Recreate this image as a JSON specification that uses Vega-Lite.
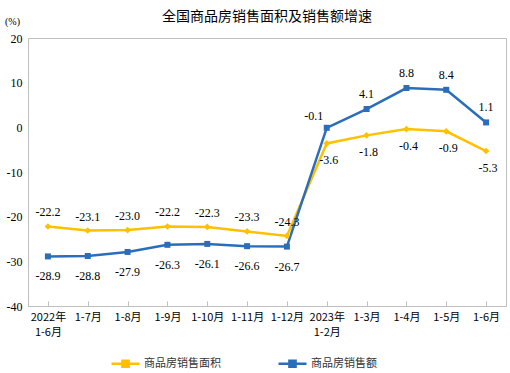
{
  "$schema": "https://vega.github.io/schema/vega-lite/v6.json",
  "autosize": "none",
  "width": 478,
  "height": 268,
  "padding": {"left": 28, "top": 38, "right": 4, "bottom": 67},
  "background": "white",
  "title": {
    "text": "全国商品房销售面积及销售额增速",
    "font": "Noto Sans CJK SC",
    "fontSize": 14,
    "fontWeight": "normal",
    "color": "#000000",
    "anchor": "middle",
    "offset": -8
  },
  "config": {
    "locale": {"number": {"decimal": ".", "thousands": ",", "grouping": [3], "currency": ["$", ""], "minus": "-"}},
    "view": {"stroke": "#BFBFBF", "strokeWidth": 1},
    "axis": {"domainColor": "#BFBFBF", "tickColor": "#BFBFBF", "grid": false, "labelColor": "#000000", "titleColor": "#000000"}
  },
  "data": {
    "values": [
      {"cat": "2022年\n1-6月", "period": 2022, "series": "商品房销售面积", "value": -22.2},
      {"cat": "1-7月", "period": 2022, "series": "商品房销售面积", "value": -23.1},
      {"cat": "1-8月", "period": 2022, "series": "商品房销售面积", "value": -23.0},
      {"cat": "1-9月", "period": 2022, "series": "商品房销售面积", "value": -22.2},
      {"cat": "1-10月", "period": 2022, "series": "商品房销售面积", "value": -22.3},
      {"cat": "1-11月", "period": 2022, "series": "商品房销售面积", "value": -23.3},
      {"cat": "1-12月", "period": 2022, "series": "商品房销售面积", "value": -24.3},
      {"cat": "2023年\n1-2月", "period": 2023, "series": "商品房销售面积", "value": -3.6},
      {"cat": "1-3月", "period": 2023, "series": "商品房销售面积", "value": -1.8},
      {"cat": "1-4月", "period": 2023, "series": "商品房销售面积", "value": -0.4},
      {"cat": "1-5月", "period": 2023, "series": "商品房销售面积", "value": -0.9},
      {"cat": "1-6月", "period": 2023, "series": "商品房销售面积", "value": -5.3},
      {"cat": "2022年\n1-6月", "period": 2022, "series": "商品房销售额", "value": -28.9},
      {"cat": "1-7月", "period": 2022, "series": "商品房销售额", "value": -28.8},
      {"cat": "1-8月", "period": 2022, "series": "商品房销售额", "value": -27.9},
      {"cat": "1-9月", "period": 2022, "series": "商品房销售额", "value": -26.3},
      {"cat": "1-10月", "period": 2022, "series": "商品房销售额", "value": -26.1},
      {"cat": "1-11月", "period": 2022, "series": "商品房销售额", "value": -26.6},
      {"cat": "1-12月", "period": 2022, "series": "商品房销售额", "value": -26.7},
      {"cat": "2023年\n1-2月", "period": 2023, "series": "商品房销售额", "value": -0.1},
      {"cat": "1-3月", "period": 2023, "series": "商品房销售额", "value": 4.1},
      {"cat": "1-4月", "period": 2023, "series": "商品房销售额", "value": 8.8},
      {"cat": "1-5月", "period": 2023, "series": "商品房销售额", "value": 8.4},
      {"cat": "1-6月", "period": 2023, "series": "商品房销售额", "value": 1.1}
    ]
  },
  "encoding": {
    "x": {
      "field": "cat", "type": "nominal", "sort": null,
      "scale": {"paddingInner": 0, "paddingOuter": 0},
      "axis": {
        "title": null, "labelAngle": 0, "bandPosition": 0, "tickSize": -5,
        "labelExpr": "split(datum.label, '\\n')",
        "labelFont": "Noto Sans CJK SC", "labelFontSize": 11, "labelPadding": 10,
        "labelLineHeight": 15, "labelBaseline": "top"
      }
    },
    "y": {
      "field": "value", "type": "quantitative",
      "scale": {"domain": [-40, 20], "nice": false},
      "axis": {
        "values": [-40, -30, -20, -10, 0, 10, 20],
        "title": "(%)", "titleAngle": 0, "titleX": -16, "titleY": -12,
        "titleFont": "Liberation Serif", "titleFontSize": 10, "titleFontWeight": "normal",
        "ticks": false, "labelFont": "Liberation Serif", "labelFontSize": 12, "labelPadding": 6
      }
    },
    "color": {
      "field": "series", "type": "nominal",
      "scale": {"domain": ["商品房销售面积", "商品房销售额"], "range": ["#FFC000", "#2A6EBB"]},
      "legend": {
        "title": null, "orient": "none", "direction": "horizontal",
        "legendX": 82, "legendY": 310,
        "labelFont": "Noto Sans CJK SC", "labelFontSize": 11, "labelColor": "#333333",
        "symbolType": "M-1,0H1M-0.22,-0.22H0.22V0.22H-0.22Z",
        "symbolSize": 784, "symbolStrokeWidth": 2.5, "columnPadding": 52, "labelOffset": 3,
        "encode": {"symbols": {"update": {"shape": {"value": "M-1,0H1M-0.22,-0.22H0.22V0.22H-0.22Z"}, "size": {"value": 784}, "strokeWidth": {"value": 2.5}}}}
      }
    }
  },
  "layer": [
    {"mark": {"type": "line", "strokeWidth": 2.5}},
    {
      "transform": [{"filter": "datum.series == '商品房销售面积'"}],
      "mark": {"type": "point", "filled": true, "size": 45, "opacity": 1, "shape": "diamond"}
    },
    {
      "transform": [{"filter": "datum.series == '商品房销售额'"}],
      "mark": {"type": "point", "filled": true, "size": 36, "opacity": 1, "shape": "square"}
    },
    {
      "transform": [{"filter": "datum.series == '商品房销售面积' && datum.period == 2022"}],
      "mark": {"type": "text", "dy": -14, "font": "Liberation Serif", "fontSize": 12},
      "encoding": {"text": {"field": "value", "format": ".1f"}, "color": {"value": "#000000"}}
    },
    {
      "transform": [{"filter": "datum.series == '商品房销售面积' && datum.period == 2023"}],
      "mark": {"type": "text", "dy": 17, "dx": 2, "font": "Liberation Serif", "fontSize": 12},
      "encoding": {"text": {"field": "value", "format": ".1f"}, "color": {"value": "#000000"}}
    },
    {
      "transform": [{"filter": "datum.series == '商品房销售额' && datum.period == 2022"}],
      "mark": {"type": "text", "dy": 20, "font": "Liberation Serif", "fontSize": 12},
      "encoding": {"text": {"field": "value", "format": ".1f"}, "color": {"value": "#000000"}}
    },
    {
      "transform": [{"filter": "datum.series == '商品房销售额' && datum.period == 2023 && datum.cat != '2023年\\n1-2月'"}],
      "mark": {"type": "text", "dy": -15, "font": "Liberation Serif", "fontSize": 12},
      "encoding": {"text": {"field": "value", "format": ".1f"}, "color": {"value": "#000000"}}
    },
    {
      "transform": [{"filter": "datum.series == '商品房销售额' && datum.cat == '2023年\\n1-2月'"}],
      "mark": {"type": "text", "dy": -12, "dx": -13, "font": "Liberation Serif", "fontSize": 12},
      "encoding": {"text": {"field": "value", "format": ".1f"}, "color": {"value": "#000000"}}
    }
  ]
}
